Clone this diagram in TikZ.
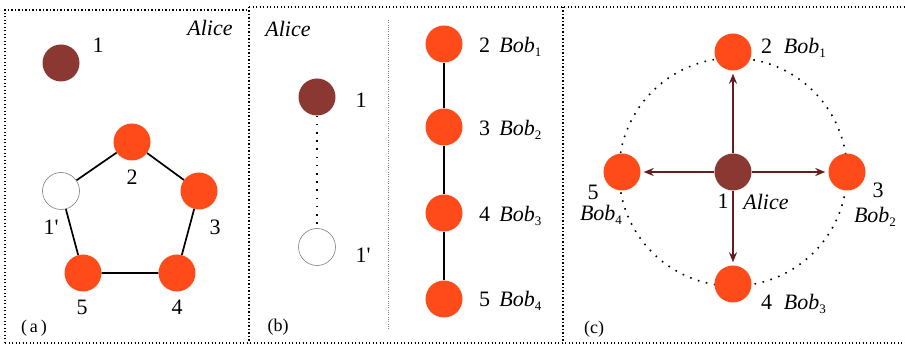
\documentclass[tikz,border=0pt]{standalone}
\usepackage{fontspec}
\setmainfont{Liberation Serif}
\usetikzlibrary{arrows.meta}
\definecolor{alicebrown}{RGB}{140,56,50}
\definecolor{bobred}{RGB}{255,74,26}
\definecolor{arrowbrown}{RGB}{100,30,30}
\newcommand\bobsub[1]{\textit{Bob}\raisebox{-0.4ex}{\fontsize{13}{14}\selectfont #1}}
\newcommand\prm{\textquotesingle}
\begin{document}
\begin{tikzpicture}[x=1pt,y=-1pt,
 alicenode/.style={circle,fill=alicebrown,minimum size=37pt,inner sep=0},
 bobnode/.style={circle,fill=bobred,minimum size=37pt,inner sep=0},
 emptynode/.style={circle,draw=gray,line width=0.6pt,fill=white,minimum size=37pt,inner sep=0},
 lbl/.style={font=\fontsize{22}{25}\selectfont, inner sep=0},
 itlbl/.style={font=\fontsize{22}{25}\selectfont\itshape, inner sep=0},
 caplbl/.style={font=\fontsize{18}{21}\selectfont, inner sep=0},
 framedots/.style={line width=1.3pt, dash pattern=on 1.3pt off 2.2pt},
 thindots/.style={draw=gray,line width=0.7pt, dash pattern=on 0.7pt off 1.6pt},
 loosedots/.style={line width=1.6pt, dash pattern=on 1.6pt off 6.6pt},
 edgeline/.style={line width=1.7pt},
 arr/.style={draw=arrowbrown,line width=1.6pt,-{Stealth[length=10pt,width=8pt]},shorten >=3pt}]
\useasboundingbox (0,0) rectangle (905,347);
% frames
\coordinate (fa1) at (5,10); \coordinate (fa2) at (249,10);
\coordinate (fb1) at (249,7); \coordinate (fc2) at (905,7);
\coordinate (bl) at (5,343); \coordinate (br) at (905,343);
\coordinate (va) at (249,343); \coordinate (vb1) at (563,7); \coordinate (vb2) at (563,343);
\draw[framedots] (bl) -- (fa1) -- (fa2);
\draw[framedots] (fb1) -- (fc2);
\draw[framedots] (bl) -- (br);
\draw[framedots] (fb1) -- (va);
\draw[framedots] (vb1) -- (vb2);
\coordinate (s1) at (388,20); \coordinate (s2) at (388,330);
\draw[thindots] (s1) -- (s2);

% panel (a)
\node[itlbl] (aAlice) at (210,28) {Alice};
\node[alicenode] (a1) at (61,63) {};
\node[lbl] (a1l) at (98,45) {1};
\node[bobnode] (a2) at (132,142) {};
\node[bobnode] (a3) at (199,191) {};
\node[bobnode] (a4) at (177,273) {};
\node[bobnode] (a5) at (83,273) {};
\node[emptynode] (a1p) at (61,191) {};
\draw[edgeline] (a1p) -- (a2) -- (a3) -- (a4) -- (a5) -- (a1p);
\node[lbl] (a2l) at (132,177) {2};
\node[lbl] (a3l) at (215,227) {3};
\node[lbl] (a4l) at (177,307) {4};
\node[lbl] (a5l) at (82,307) {5};
\node[lbl] (a1pl) at (51,227) {1\prm};
\node[caplbl] (acap) at (34,328) {(\,a\,)};

% panel (b)
\node[itlbl] (bAlice) at (288,29) {Alice};
\node[alicenode] (b1) at (317,97) {};
\node[emptynode] (b1p) at (317,247) {};
\draw[loosedots] (b1) -- (b1p);
\node[lbl] (b1l) at (361,100) {1};
\node[lbl] (b1pl) at (363,255) {1\prm};
\node[bobnode] (b2) at (444,44) {};
\node[bobnode] (b3) at (444,127) {};
\node[bobnode] (b4) at (444,213) {};
\node[bobnode] (b5) at (444,299) {};
\draw[edgeline] (b2) -- (b3) -- (b4) -- (b5);
\node[lbl,anchor=west] (b2l) at (479,47) {2\, \bobsub{1}};
\node[lbl,anchor=west] (b3l) at (479,130) {3\, \bobsub{2}};
\node[lbl,anchor=west] (b4l) at (479,216) {4\, \bobsub{3}};
\node[lbl,anchor=west] (b5l) at (479,301) {5\, \bobsub{4}};
\node[caplbl] (bcap) at (278,327) {(b)};

% panel (c)
\coordinate (cc) at (733,172);
\draw[loosedots] (cc) circle (114);
\node[alicenode] (c1) at (cc) {};
\node[bobnode] (c2) at (733,52) {};
\node[bobnode] (c3) at (847,172) {};
\node[bobnode] (c4) at (733,284) {};
\node[bobnode] (c5) at (622,172) {};
\draw[arr] (c1) -- (c2);
\draw[arr] (c1) -- (c3);
\draw[arr] (c1) -- (c4);
\draw[arr] (c1) -- (c5);
\node[lbl,anchor=west] (c2l) at (761,48) {2\; \bobsub{1}};
\node[lbl,anchor=west] (c4l) at (761,304) {4\; \bobsub{3}};
\node[lbl] (c3l) at (878,190) {3};
\node[lbl] (c3b) at (875,217) {\bobsub{2}};
\node[lbl] (c5l) at (593,192) {5};
\node[lbl] (c5b) at (601,215) {\bobsub{4}};
\node[lbl] (c1l) at (723,201) {1};
\node[itlbl] (cAlice) at (766,202) {Alice};
\node[caplbl] (ccap) at (594,329) {(c)};
\end{tikzpicture}
\end{document}
